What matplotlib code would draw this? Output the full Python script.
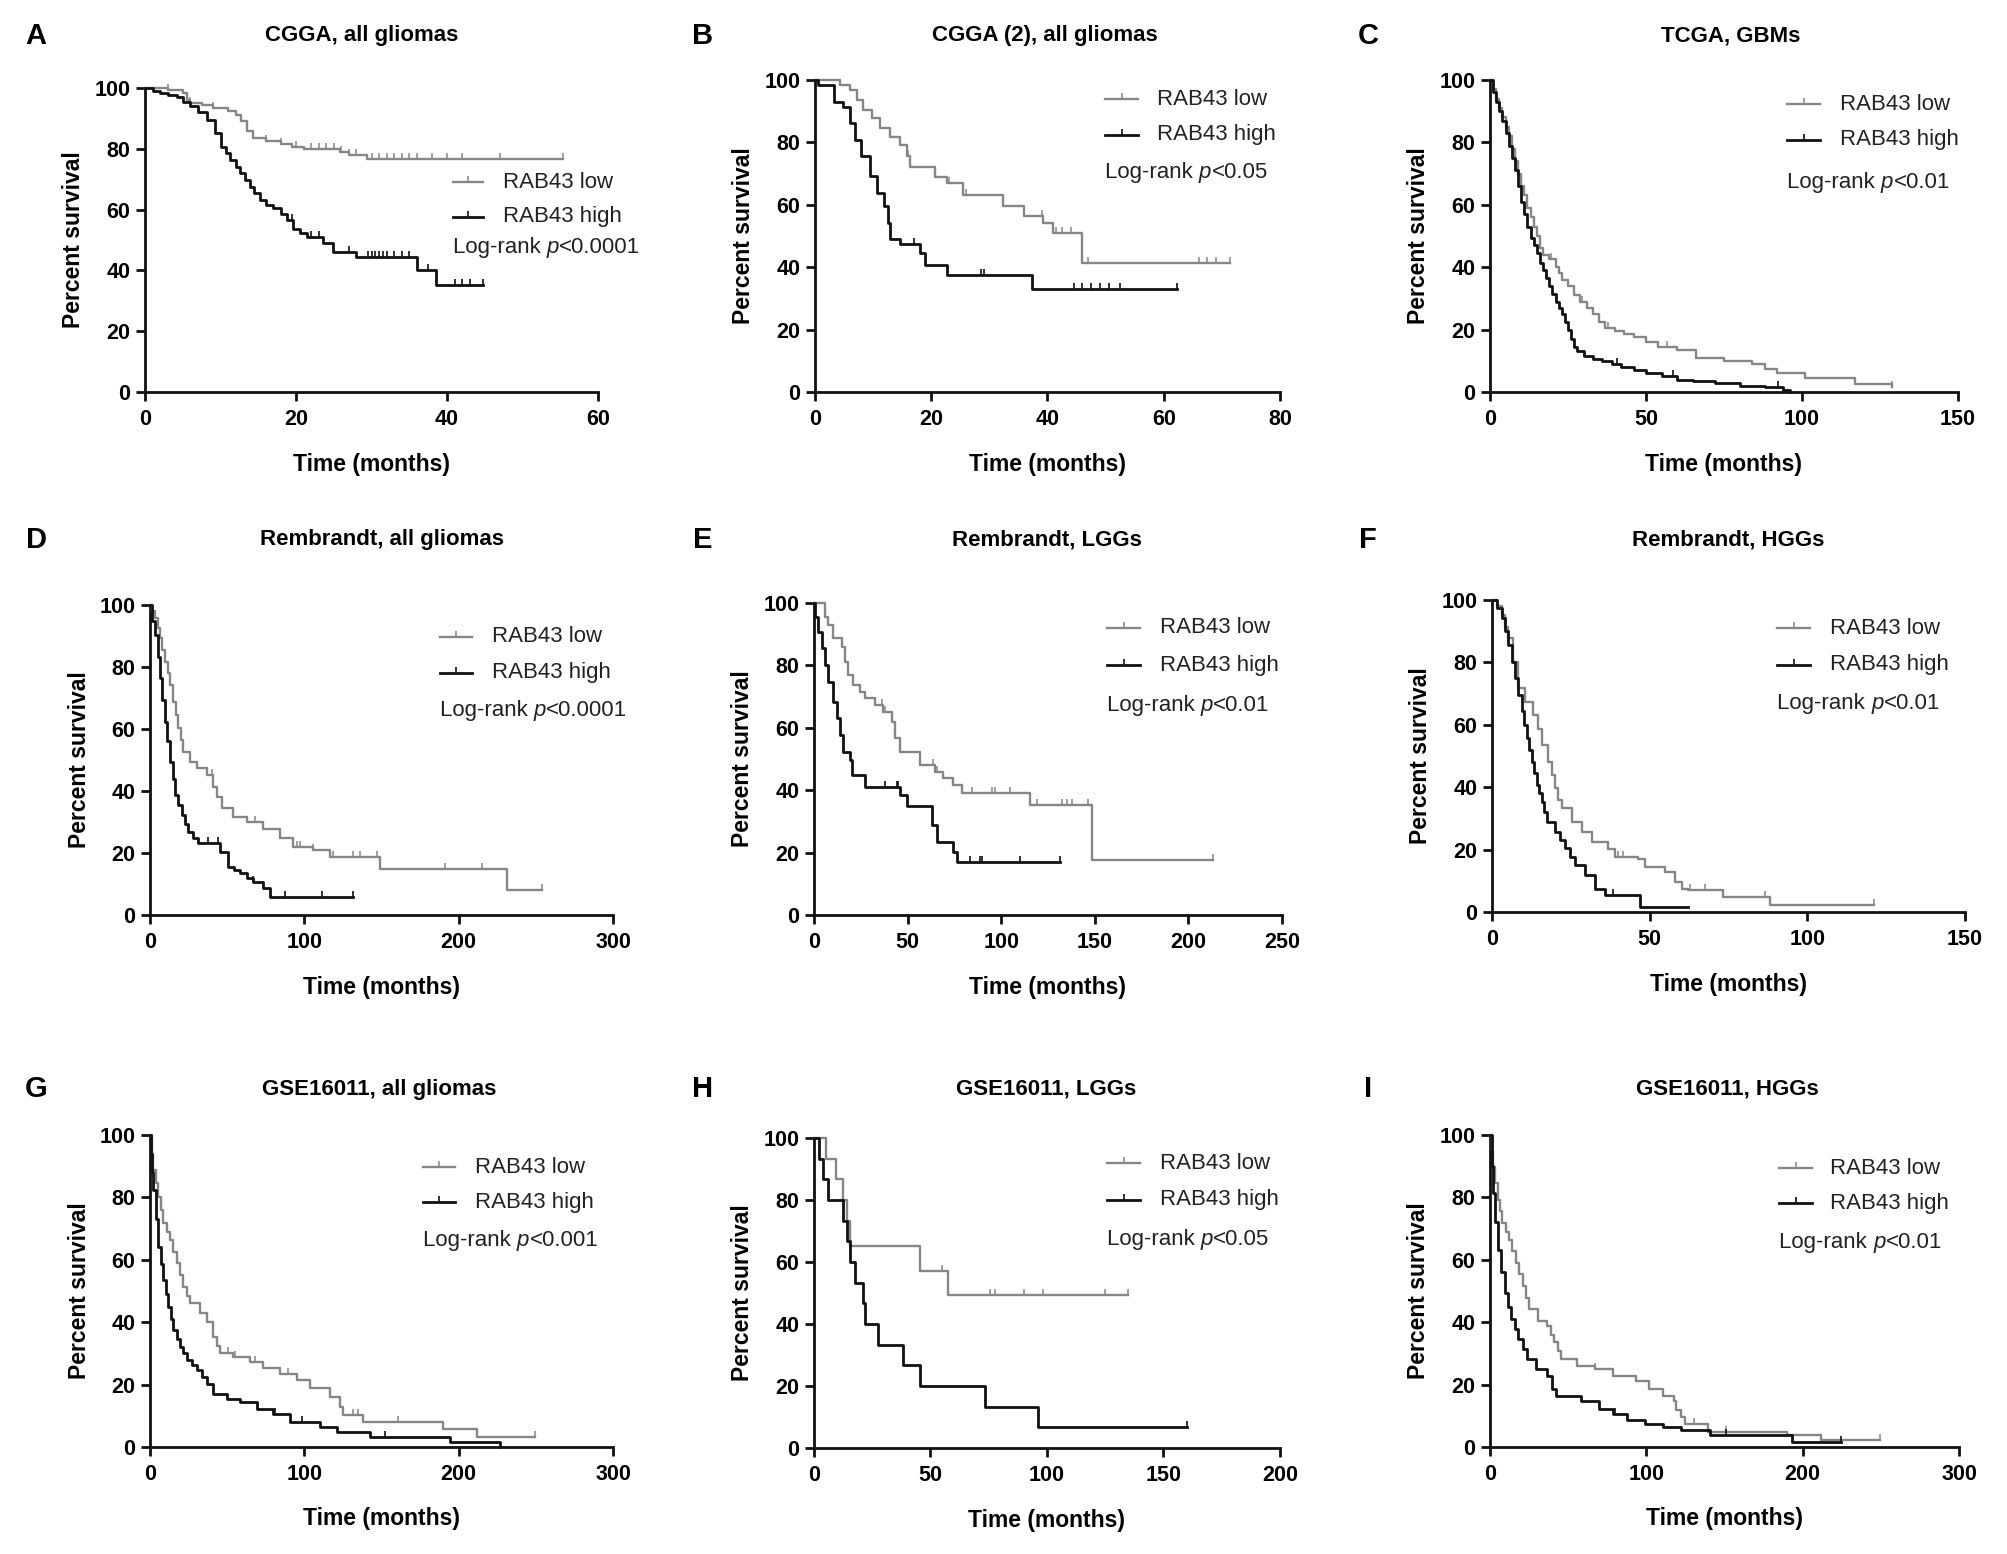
import numpy as np
import matplotlib
matplotlib.use("Agg")
import matplotlib.pyplot as plt

# fuente estrecha tipo Arial Narrow (como en el original)
plt.rcParams['font.family'] = ['Liberation Sans Narrow', 'Liberation Sans', 'DejaVu Sans']

# --- Datos (tiempo en meses, % supervivencia) ---
# A - CGGA, all gliomas
A_low_t = [0, 3, 5, 5.5, 6, 7.5, 9, 11, 12, 12.7, 13.5, 14.3, 16, 18, 19.5, 21, 25.8, 27, 29.4, 55.4]
A_low_s = [100, 99.5, 98.5, 96, 95, 94.5, 93.5, 92.5, 91, 89, 86, 83.5, 82.5, 81.5, 80.5, 79.8, 78.8, 78, 76.5, 76.5]
A_low_c = [3, 6, 9, 16, 18, 20, 22, 23, 24, 25, 26, 27, 28, 30, 31, 32, 33, 34, 35, 36, 38, 40, 42, 47, 55.4]
A_high_t = [0, 1, 2, 3, 4.2, 5, 6, 7, 8.2, 9.3, 10, 10.7, 11.3, 12, 12.6, 13.3, 13.9, 14.5, 15.2, 16, 17, 18,
            18.8, 19.6, 20.5, 21.4, 23.6, 24.9, 28, 36, 38.6, 44.8]
A_high_s = [100, 99, 98.5, 97.8, 97.1, 95.5, 94, 92, 89.5, 85.1, 80.7, 78.5, 76.3, 74, 71.9, 69.6, 67.5, 65.3,
            63.1, 61.5, 60.4, 58.5, 56.5, 53.5, 52.2, 51.1, 48.9, 46.2, 44.5, 40.1, 35.2, 35.2]
A_high_c = [19.5, 22, 23, 27, 29.5, 30, 30.5, 31, 31.5, 32, 33, 34, 35, 37.5, 41, 42, 43, 44.8]

# B - CGGA (2), all gliomas
B_low_t = [0, 4.3, 6, 7.2, 8.3, 9.8, 11.2, 12.9, 14.6, 15.8, 16.4, 20.6, 22.7, 25.5, 32.4, 35.9, 39.3, 41, 45.9, 71.4]
B_low_s = [100, 98.5, 96.8, 93.6, 90.4, 87.7, 84.5, 81.8, 79.2, 75.5, 72.2, 69, 66.9, 63.2, 59.6, 56.4, 54.1, 50.9, 41.3, 41.3]
B_low_c = [16, 23, 26, 39, 41.5, 42.5, 44, 47, 66, 67.5, 69, 71.4]
B_high_t = [0, 0.5, 3.2, 4.9, 6, 6.9, 8, 9.5, 10.6, 11.8, 12.6, 12.9, 14.6, 18, 18.9, 22.7, 37.3, 62.2]
B_high_s = [100, 98.4, 93, 91.5, 86.2, 80.9, 75.6, 69.2, 63.7, 59.6, 54.3, 48.9, 47.4, 44.4, 40.7, 37.5, 33, 33]
B_high_c = [17, 28.5, 29, 44.5, 46, 47.5, 49, 50.5, 52.5, 62.2]

# C - TCGA, GBMs
C_low_t = [0, 1, 2, 3, 4, 5, 6, 7, 8, 9, 10, 11, 12, 13, 14, 15, 16, 17, 19, 21, 22, 23, 25, 27, 29, 31, 33, 35,
           37, 40, 43, 46, 50, 54, 60, 66, 75, 84, 88, 92, 101, 117, 129]
C_low_s = [100, 97, 94, 91, 88, 85, 82, 78, 74, 70, 66, 63, 59, 56, 53, 50, 46, 44, 42.5, 40, 38, 36, 34, 31, 29,
           27, 25, 22.5, 20.5, 19.5, 18.5, 17.5, 16, 14.5, 13.5, 11, 10, 9, 7.5, 6, 4.5, 2.5, 1.5]
C_low_c = [19.7, 29.4, 37.9, 56.6, 129]
C_high_t = [0, 1, 2, 3, 4, 5, 6, 7, 8, 9, 10, 11, 12, 13, 14, 15, 16, 17, 18, 19, 20, 21, 22, 23, 24, 25, 26, 27,
            28, 30, 33, 36, 39, 42, 46, 50, 55, 60, 65, 72, 80, 88, 94, 96]
C_high_s = [100, 96, 93, 90, 87, 83, 79, 75, 71, 66, 61, 57, 53, 49.5, 47, 44.5, 41.5, 39, 36.5, 34, 31.5, 29, 27,
            25, 22.5, 20, 17, 14.5, 13, 11.5, 10.5, 10, 9, 8, 7, 6, 5, 4, 3.5, 3, 2, 1.5, 0.7, 0]
C_high_c = [40.6, 58.8, 92.4]

# D - Rembrandt, all gliomas
D_low_t = [0, 1.5, 3.2, 5, 6.5, 8, 9.7, 11.5, 13, 15.1, 16.8, 18.4, 20, 21.6, 25.9, 30.2, 36.7, 41, 43.5, 46.4,
           54, 62.6, 73.4, 84.2, 92.9, 105.8, 116.6, 149, 231, 254]
D_low_s = [100, 98, 95.7, 92.5, 89.2, 85.5, 81.7, 78, 74.2, 68.8, 64.5, 60.2, 56.5, 52.7, 49.5, 47.3, 45.2, 41.4,
           38, 34.4, 31.7, 30.1, 27.9, 24.7, 22, 20.9, 18.8, 15, 8.1, 8.1]
D_low_c = [36.7, 40, 62.6, 68, 73.4, 84.2, 95, 97.2, 105.8, 118.8, 131.8, 136.1, 146.9, 191.2, 214.9, 254]
D_high_t = [0, 1.5, 3.2, 5, 6.5, 8, 9.7, 11.3, 13, 14.6, 16.2, 18.3, 20.5, 22.6, 24.8, 28, 31.3, 45.4, 50.8,
            54.5, 58.3, 62.6, 67, 73.4, 77.8, 131.8]
D_high_s = [100, 95, 90.3, 83.3, 76.3, 69.4, 62.4, 56, 49.5, 44, 38.7, 35.5, 32.3, 29.5, 26.9, 25, 23.1, 20.4,
            15.6, 14.5, 13.4, 12, 10.8, 8.6, 5.9, 5.9]
D_high_c = [37.8, 44.3, 67, 87.5, 111.3, 131.8]

# E - Rembrandt, LGGs
E_low_t = [0, 5.9, 7.7, 10.3, 14.8, 16.6, 18.3, 21, 24.6, 27.2, 32.6, 37, 41.5, 43.3, 46, 56.6, 64.6, 69.1,
           74.4, 78.9, 115.4, 148.3, 213.3]
E_low_s = [100, 95.6, 93, 88.7, 86, 81.2, 76.9, 73.7, 71.6, 69.4, 67.3, 65.2, 62, 56.6, 52.4, 48.1, 45.9, 43.8,
           41.7, 39, 35.3, 17.7, 17.7]
E_low_c = [36.1, 37.9, 63.7, 65.5, 84.2, 94.9, 96.7, 104.7, 118.9, 132.3, 135, 137.6, 146.5, 213.3]
E_high_t = [0, 0.5, 2.3, 4.1, 5.9, 7.7, 10.3, 12.1, 13.9, 15.7, 19.2, 20.1, 27.2, 46, 49.5, 62.9, 65.5, 74.4,
            76.2, 131.4]
E_high_s = [100, 95.6, 90.8, 85.5, 80.1, 74.8, 68.4, 63, 57.7, 52.4, 49.7, 44.9, 41.1, 38.5, 34.8, 28.8, 23.5,
            20.3, 17.1, 17.1]
E_high_c = [37.9, 44.2, 45.1, 83.3, 88.7, 89.6, 110, 131.4]

# F - Rembrandt, HGGs
F_low_t = [0, 1.5, 3.1, 4.2, 5.2, 6.8, 8.4, 10.5, 13.1, 14.5, 15.8, 17.9, 19, 20, 21, 22.1, 25.3, 28.4, 31.6,
           36.9, 39, 46.4, 48.5, 54.9, 58, 60.1, 62.3, 73.4, 88.2, 121]
F_low_s = [100, 98, 95.2, 91.5, 87.7, 80.2, 71.7, 67.4, 63.2, 58.5, 53.5, 48.2, 44, 39.6, 36, 33.2, 28.9, 25.7,
           22.4, 20.3, 17.6, 17.1, 14.4, 12.8, 9.6, 7.5, 6.9, 4.8, 2.1, 2.1]
F_low_c = [40.1, 41.7, 62.8, 67.5, 86.6, 121]
F_high_t = [0, 1.5, 3.1, 4.2, 5.2, 6.2, 7.3, 8.3, 9.4, 10.2, 11, 11.8, 12.6, 13.4, 14.2, 15, 15.8, 16.6, 17.3,
            20, 21.5, 23.1, 24.7, 26.3, 29.5, 32.7, 35.8, 46.9, 62.3]
F_high_s = [100, 97.5, 94.1, 90, 85.6, 80.2, 74.9, 69.6, 64.3, 60, 55.7, 52, 48.2, 44.5, 40.8, 38, 35.4, 32.2,
            29, 25.7, 23, 20.4, 17.7, 15, 11.8, 7.5, 5.3, 1.6, 1.6]
F_high_c = [38.5]

# G - GSE16011, all gliomas
G_low_t = [0, 1, 2.2, 3.8, 5.4, 7, 8.6, 10.8, 13, 15.2, 17.3, 19.5, 21.6, 23.8, 25.9, 32.4, 36.7, 41, 43.2,
           45.4, 54, 64.8, 73.4, 84.2, 95, 103.7, 116.6, 123.1, 125.3, 138.2, 190, 211.7, 249.5]
G_low_s = [100, 94, 88.8, 84.5, 80.2, 76, 71.7, 69, 66.3, 62.5, 58.9, 55, 51.4, 48.5, 46, 42.8, 40.1, 35.4,
           32.5, 30, 28.9, 27.3, 25.2, 23.5, 21.4, 18.8, 16.1, 12.9, 10.2, 8.1, 5.9, 3.2, 3.2]
G_low_c = [50.8, 55, 68, 89.6, 131.8, 135, 160.9, 249.5]
G_high_t = [0, 0.5, 1.2, 2.2, 3.8, 5.4, 7, 8.6, 10.2, 11.9, 13.5, 15.1, 17.2, 19.4, 21.6, 23.8, 27, 30.2, 33.5,
            36.7, 41, 49.7, 58.3, 69.1, 79.9, 90.7, 110.2, 121, 142.6, 194.4, 226.8]
G_high_s = [100, 94, 88, 82.4, 73, 64.2, 58.5, 53.5, 49, 44.9, 41, 37.4, 34.7, 32.1, 30, 27.8, 26.2, 24.6,
            22.5, 20.3, 17.1, 15.5, 14.4, 12.3, 10.7, 8, 6.4, 4.8, 3.2, 1.6, 0]
G_high_c = [81, 98.3, 152.3]

# H - GSE16011, LGGs
H_low_t = [0, 5, 9.5, 12.6, 14, 15.5, 45.5, 57.7, 134.9]
H_low_s = [100, 93.3, 86.7, 80, 73.3, 65.2, 57, 49.3, 49.3]
H_low_c = [54.8, 75.5, 77.7, 90, 98.4, 124.9, 134.9]
H_high_t = [0, 2, 4, 6.2, 12.6, 14, 15.5, 17.6, 21, 21.9, 27.6, 38.3, 45.5, 73.4, 96.3, 160]
H_high_s = [100, 93.3, 86.7, 80, 73.3, 66.7, 60, 53.3, 46.7, 40, 33.3, 26.7, 20, 13.3, 6.7, 6.7]
H_high_c = [160]

# I - GSE16011, HGGs
I_low_t = [0, 1, 2, 3.5, 4.9, 6.3, 7.8, 10, 12.1, 14.3, 16.5, 18.6, 20.8, 23, 25.2, 31, 36.7, 38.9, 41.1, 43.3,
           45.4, 55.5, 67.1, 78.7, 93.1, 101.8, 110.5, 117.7, 119.2, 122, 125, 139.4, 190, 211.7, 249.3]
I_low_s = [100, 95, 89.9, 84.5, 79.3, 75.5, 71.8, 69, 66.5, 62.8, 59, 55.3, 51.6, 47.8, 44.1, 40.4, 38.8, 36,
           33.5, 30.8, 28.2, 26.1, 25, 22.9, 21.3, 18.6, 16.5, 14.9, 11.7, 9.5, 7.4, 4.8, 3.7, 2.1, 2.1]
I_low_c = [67.1, 130.7, 151, 249.3]
I_high_t = [0, 1, 2, 3.5, 4.9, 7.1, 9.3, 11.5, 13.6, 15.8, 17.9, 20.8, 23.7, 29.5, 36.7, 39.6, 42.5, 58.4, 70,
            78.7, 87.4, 98.9, 110.5, 122.1, 140.9, 192.9, 224.8]
I_high_s = [100, 90, 81.4, 72, 63.3, 56, 49.5, 45, 41, 37.8, 34.6, 31.4, 28.2, 25, 22.9, 18.6, 16.5, 14.9, 12.2,
            10.6, 8.5, 7.4, 6.4, 5.3, 3.7, 1.6, 1.6]
I_high_c = [80.1, 151, 224.8]

letters = ['A', 'B', 'C', 'D', 'E', 'F', 'G', 'H', 'I']
titles = ['CGGA, all gliomas', 'CGGA (2), all gliomas', 'TCGA, GBMs',
          'Rembrandt, all gliomas', 'Rembrandt, LGGs', 'Rembrandt, HGGs',
          'GSE16011, all gliomas', 'GSE16011, LGGs', 'GSE16011, HGGs']
p_values = ['<0.0001', '<0.05', '<0.01', '<0.0001', '<0.01', '<0.01', '<0.001', '<0.05', '<0.01']
x_max = [60, 80, 150, 300, 250, 150, 300, 200, 300]
x_step = [20, 20, 50, 100, 50, 50, 100, 50, 100]

curves = [
    (A_low_t, A_low_s, A_low_c, A_high_t, A_high_s, A_high_c),
    (B_low_t, B_low_s, B_low_c, B_high_t, B_high_s, B_high_c),
    (C_low_t, C_low_s, C_low_c, C_high_t, C_high_s, C_high_c),
    (D_low_t, D_low_s, D_low_c, D_high_t, D_high_s, D_high_c),
    (E_low_t, E_low_s, E_low_c, E_high_t, E_high_s, E_high_c),
    (F_low_t, F_low_s, F_low_c, F_high_t, F_high_s, F_high_c),
    (G_low_t, G_low_s, G_low_c, G_high_t, G_high_s, G_high_c),
    (H_low_t, H_low_s, H_low_c, H_high_t, H_high_s, H_high_c),
    (I_low_t, I_low_s, I_low_c, I_high_t, I_high_s, I_high_c),
]

# --- Layout (pixeles de la figura 2008x1554) ---
W, H = 2008, 1554
# (izq, der, arriba, abajo) de cada eje
boxes = [(145, 598, 88, 392), (815, 1280, 80, 392), (1490, 1958, 80, 392),
         (150, 613, 605, 915), (814, 1282, 603, 915), (1492, 1965, 600, 912),
         (150, 613, 1135, 1447), (814, 1280, 1138, 1448), (1490, 1959, 1135, 1447)]
title_x = [362, 1045, 1731, 382, 1047, 1728, 379, 1046, 1727]
row_title_y = [36, 540, 1089]
col_letter_x = [36, 703, 1368]
# leyenda: (x0 linea, x1 linea, x texto, y low, y high, y logrank) en fraccion de ejes
legend_pos = [(0.68, 0.746, 0.79, 0.69, 0.576, 0.474),
              (0.624, 0.695, 0.736, 0.939, 0.824, 0.705),
              (0.635, 0.705, 0.748, 0.923, 0.808, 0.673),
              (0.626, 0.695, 0.739, 0.897, 0.781, 0.661),
              (0.626, 0.697, 0.739, 0.92, 0.801, 0.673),
              (0.603, 0.672, 0.715, 0.91, 0.792, 0.668),
              (0.59, 0.659, 0.702, 0.897, 0.785, 0.663),
              (0.629, 0.70, 0.742, 0.919, 0.80, 0.671),
              (0.617, 0.687, 0.726, 0.894, 0.782, 0.654)]

GREY = '#868686'
BLACK = '#111111'


def censor_y(t, s, c):
    t = np.asarray(t)
    s = np.asarray(s)
    idx = np.searchsorted(t, np.asarray(c), side='right') - 1
    return s[np.clip(idx, 0, len(s) - 1)]


fig = plt.figure(figsize=(W / 100, H / 100), dpi=100)

for i in range(9):
    x0, x1, y0, y1 = boxes[i]
    ax = fig.add_axes([x0 / W, 1 - y1 / H, (x1 - x0) / W, (y1 - y0) / H])
    lt, ls, lc, ht, hs, hc = curves[i]

    # curvas Kaplan-Meier
    ax.step(lt, ls, where='post', color=GREY, lw=1.7, clip_on=False, zorder=3)
    ax.plot(lc, censor_y(lt, ls, lc), ls='none', marker=2, ms=4, mew=1.1, color=GREY, clip_on=False, zorder=3)
    ax.step(ht, hs, where='post', color=BLACK, lw=2.0, clip_on=False, zorder=4)
    ax.plot(hc, censor_y(ht, hs, hc), ls='none', marker=2, ms=4, mew=1.2, color=BLACK, clip_on=False, zorder=4)

    ax.set_xlim(0, x_max[i])
    ax.set_ylim(0, 100)
    ax.set_xticks(np.arange(0, x_max[i] + 1, x_step[i]))
    ax.set_yticks(np.arange(0, 101, 20))
    for side in ['top', 'right']:
        ax.spines[side].set_visible(False)
    for side in ['left', 'bottom']:
        ax.spines[side].set_linewidth(2.0)
        ax.spines[side].set_color('#111111')
    ax.tick_params(direction='out', length=6.5, width=2.0, color='#111111', labelsize=15.5, pad=4)
    ax.tick_params(axis='x', pad=6)
    for lab in ax.get_xticklabels() + ax.get_yticklabels():
        lab.set_fontweight('bold')

    h_px = y1 - y0
    w_px = x1 - x0
    ax.set_xlabel('Time (months)', fontsize=16.5, fontweight='bold', va='center')
    ax.xaxis.set_label_coords(0.5, -72 / h_px)
    ax.set_ylabel('Percent survival', fontsize=16.5, fontweight='bold', va='center')
    ax.yaxis.set_label_coords(-71 / w_px, 0.5)

    # leyenda manual
    lx0, lx1, tx, yl, yh, yp = legend_pos[i]
    mid = (lx0 + lx1) / 2
    ax.plot([lx0, lx1], [yl, yl], transform=ax.transAxes, color=GREY, lw=1.7, clip_on=False)
    ax.plot([mid], [yl], transform=ax.transAxes, marker=2, ms=4, mew=1.1, color=GREY, clip_on=False)
    ax.plot([lx0, lx1], [yh, yh], transform=ax.transAxes, color=BLACK, lw=2.0, clip_on=False)
    ax.plot([mid], [yh], transform=ax.transAxes, marker=2, ms=4, mew=1.2, color=BLACK, clip_on=False)
    ax.text(tx, yl, 'RAB43 low', transform=ax.transAxes, fontsize=16, va='center', ha='left', color='#222222')
    ax.text(tx, yh, 'RAB43 high', transform=ax.transAxes, fontsize=16, va='center', ha='left', color='#222222')
    t1 = ax.text(lx0, yp, 'Log-rank ', transform=ax.transAxes, fontsize=16, va='center', ha='left',
                 color='#222222')
    t2 = ax.annotate('p', xy=(1, 0), xycoords=t1, va='bottom', ha='left', fontsize=16, style='italic',
                     color='#222222')
    ax.annotate(p_values[i], xy=(1, 0), xycoords=t2, va='bottom', ha='left', fontsize=16, color='#222222')

    # titulo y letra del panel
    row = i // 3
    col = i % 3
    fig.text(title_x[i] / W, 1 - row_title_y[row] / H, titles[i], fontsize=16, fontweight='bold',
             ha='center', va='center')
    fig.text(col_letter_x[col] / W, 1 - row_title_y[row] / H, letters[i], fontsize=21, fontweight='bold',
             ha='center', va='center')

fig.savefig('out.png', dpi=100)
